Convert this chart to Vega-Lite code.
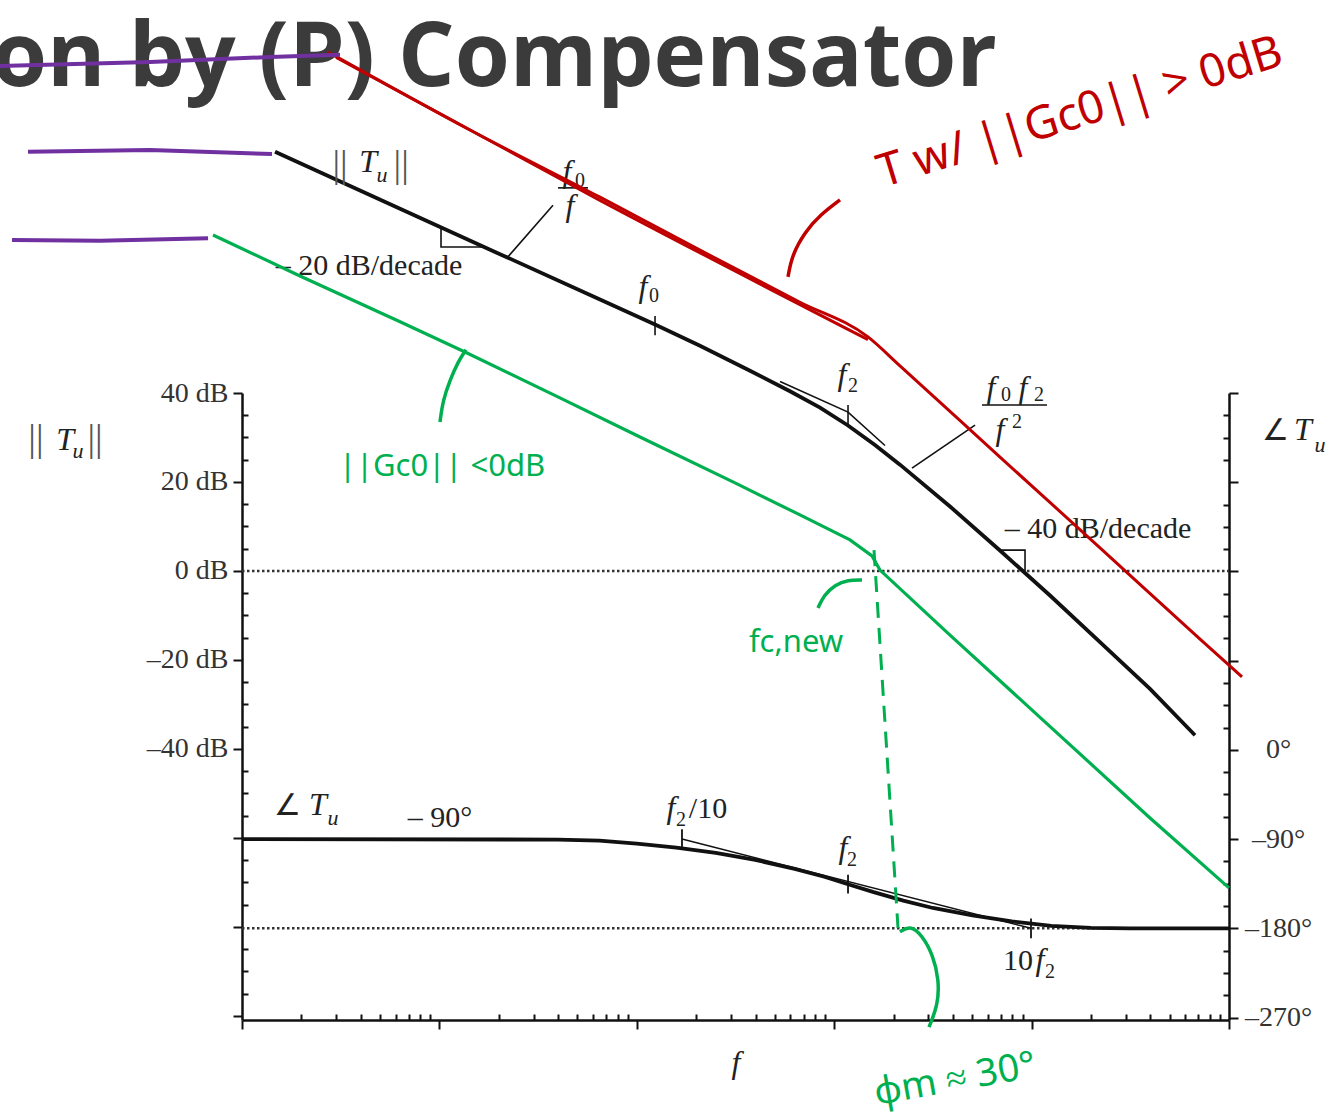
{
  "$schema": "https://vega.github.io/schema/vega-lite/v6.json",
  "width": 987,
  "height": 627,
  "autosize": {"type": "none"},
  "padding": {"left": 242, "top": 393, "right": 104, "bottom": 96},
  "background": "white",
  "config": {"view": {"stroke": null}, "axis": {"grid": false}},
  "datasets": {
    "mag": [
      {"f": 1.47, "dB": 94.2}, {"f": 6.32, "dB": 81.4}, {"f": 20.28, "dB": 71.2}, {"f": 65.1, "dB": 61.0},
      {"f": 123.7, "dB": 55.4}, {"f": 209, "dB": 50.6}, {"f": 374.6, "dB": 45.0}, {"f": 597.2, "dB": 40.4},
      {"f": 847.7, "dB": 36.7}, {"f": 1175, "dB": 32.7}, {"f": 1609, "dB": 28.3}, {"f": 2154, "dB": 23.9},
      {"f": 3861, "dB": 14.5}, {"f": 6917, "dB": 4.6}, {"f": 12397, "dB": -5.5}, {"f": 22210, "dB": -16.0},
      {"f": 39800, "dB": -26.5}, {"f": 67270, "dB": -36.9}
    ],
    "guides": [
      {"seg": "asym", "f": 531.6, "dB": 42.6}, {"seg": "asym", "f": 1175, "dB": 35.7}, {"seg": "asym", "f": 1808, "dB": 28.2},
      {"seg": "f0tick", "f": 123.7, "dB": 57.3}, {"seg": "f0tick", "f": 123.7, "dB": 53.0},
      {"seg": "f2tick", "f": 1175, "dB": 37.3}, {"seg": "f2tick", "f": 1175, "dB": 32.4},
      {"seg": "slope20", "f": 10.19, "dB": 77.1}, {"seg": "slope20", "f": 10.19, "dB": 72.8}, {"seg": "slope20", "f": 16.82, "dB": 72.8},
      {"seg": "lead1", "f": 22.26, "dB": 70.6}, {"seg": "lead1", "f": 37.63, "dB": 82.2},
      {"seg": "bar1", "f": 39.9, "dB": 86.1}, {"seg": "bar1", "f": 56.6, "dB": 86.1},
      {"seg": "lead2", "f": 2478, "dB": 23.1}, {"seg": "lead2", "f": 5169, "dB": 32.8},
      {"seg": "bar2", "f": 5607, "dB": 37.3}, {"seg": "bar2", "f": 11967, "dB": 37.3},
      {"seg": "slope40", "f": 6917, "dB": 4.7}, {"seg": "slope40", "f": 9262, "dB": 4.7}, {"seg": "slope40", "f": 9262, "dB": 0}
    ],
    "zeroDb": [{"f": 1, "dB": 0}, {"f": 100000, "dB": 0}],
    "phase": [
      {"f": 1, "phase": -90}, {"f": 39.8, "phase": -90.5}, {"f": 64.6, "phase": -91.5}, {"f": 100, "phase": -94.5},
      {"f": 158.5, "phase": -98.5}, {"f": 251.2, "phase": -104}, {"f": 398.1, "phase": -111}, {"f": 631, "phase": -120},
      {"f": 891.3, "phase": -128}, {"f": 1175, "phase": -135.5}, {"f": 1585, "phase": -143.5}, {"f": 2239, "phase": -152},
      {"f": 3162, "phase": -159.5}, {"f": 5012, "phase": -167}, {"f": 7943, "phase": -173}, {"f": 12589, "phase": -177.5},
      {"f": 19953, "phase": -179.5}, {"f": 31623, "phase": -180}, {"f": 100000, "phase": -180}
    ],
    "phaseAsym": [{"f": 169.4, "phase": -90}, {"f": 9931, "phase": -180}],
    "phaseTicks": [
      {"seg": "a", "f": 169.4, "phase": -80}, {"seg": "a", "f": 169.4, "phase": -99},
      {"seg": "b", "f": 1175, "phase": -126}, {"seg": "b", "f": 1175, "phase": -145},
      {"seg": "c", "f": 9931, "phase": -170}, {"seg": "c", "f": 9931, "phase": -190}
    ],
    "phaseRef": [{"f": 1, "phase": -180}, {"f": 100000, "phase": -180}],
    "red": [
      {"stroke": "a", "f": 2.73, "dB": 116.6}, {"stroke": "a", "f": 14.29, "dB": 99.1}, {"stroke": "a", "f": 65.1, "dB": 84.0},
      {"stroke": "a", "f": 209, "dB": 72.1}, {"stroke": "a", "f": 670.9, "dB": 60.4}, {"stroke": "a", "f": 1483, "dB": 52.6},
      {"stroke": "a", "f": 2154, "dB": 46.1}, {"stroke": "a", "f": 6917, "dB": 25.6}, {"stroke": "a", "f": 22210, "dB": 5.2},
      {"stroke": "a", "f": 71310, "dB": -15.3}, {"stroke": "a", "f": 116400, "dB": -23.8},
      {"stroke": "b", "f": 3.0, "dB": 115.4}, {"stroke": "b", "f": 65.1, "dB": 83.3}, {"stroke": "b", "f": 1483, "dB": 52.0}
    ],
    "redArc": [
      {"f": 583.4, "dB": 66.1}, {"f": 611.2, "dB": 71.0}, {"f": 711.4, "dB": 76.2}, {"f": 847.7, "dB": 80.0}, {"f": 1070, "dB": 83.4}
    ],
    "green": [
      {"f": 0.713, "dB": 75.5}, {"f": 1.967, "dB": 66.3}, {"f": 6.32, "dB": 56.0}, {"f": 13.48, "dB": 49.2},
      {"f": 40.8, "dB": 38.9}, {"f": 103.8, "dB": 30.1}, {"f": 314.5, "dB": 19.8}, {"f": 670.9, "dB": 12.6},
      {"f": 1202, "dB": 7.0}, {"f": 1554, "dB": 3.4}, {"f": 1706, "dB": 0.2}, {"f": 3861, "dB": -14.4},
      {"f": 11424, "dB": -33.5}, {"f": 39800, "dB": -55.5}, {"f": 100000, "dB": -71.2}
    ],
    "greenArcs": [
      {"seg": "g1", "f": 10.07, "dB": 33.5}, {"seg": "g1", "f": 10.43, "dB": 38.4}, {"seg": "g1", "f": 11.32, "dB": 42.9},
      {"seg": "g1", "f": 12.42, "dB": 47.0}, {"seg": "g1", "f": 13.64, "dB": 49.7},
      {"seg": "g2", "f": 827.8, "dB": -8.3}, {"seg": "g2", "f": 887.9, "dB": -5.4}, {"seg": "g2", "f": 1009, "dB": -3.1},
      {"seg": "g2", "f": 1175, "dB": -2.0}, {"seg": "g2", "f": 1383, "dB": -2.0},
      {"seg": "g3", "f": 2154, "dB": -81.1}, {"seg": "g3", "f": 2421, "dB": -79.6}, {"seg": "g3", "f": 2785, "dB": -81.8},
      {"seg": "g3", "f": 3167, "dB": -86.3}, {"seg": "g3", "f": 3395, "dB": -91.9}, {"seg": "g3", "f": 3356, "dB": -97.5},
      {"seg": "g3", "f": 3022, "dB": -102.5}
    ],
    "greenDash": [{"f": 1591, "dB": 4.7}, {"f": 2105, "dB": -80.2}],
    "purple": [
      {"seg": "p1", "f": 0.0824, "dB": 94.2}, {"seg": "p1", "f": 0.342, "dB": 94.6}, {"seg": "p1", "f": 1.419, "dB": 93.7},
      {"seg": "p2", "f": 0.0684, "dB": 74.4}, {"seg": "p2", "f": 0.191, "dB": 74.2}, {"seg": "p2", "f": 0.673, "dB": 74.8},
      {"seg": "p3", "f": 0.0594, "dB": 113.5}, {"seg": "p3", "f": 0.342, "dB": 114.4}, {"seg": "p3", "f": 1.386, "dB": 115.5},
      {"seg": "p3", "f": 3.136, "dB": 116.0}
    ],
    "heading": [{"label": "on by (P) Compensator", "f": 0.0541, "dB": 109.0}],
    "normBars": [
      {"label": "||", "f": 3.136, "dB": 88.6}, {"label": "||", "f": 6.40, "dB": 88.6},
      {"label": "||", "f": 0.0904, "dB": 27.0}, {"label": "||", "f": 0.1800, "dB": 27.0}
    ],
    "serifText": [
      {"label": "– 20 dB/decade", "f": 4.40, "dB": 66.5},
      {"label": "– 40 dB/decade", "f": 21700, "dB": 7.4},
      {"label": "∠", "f": 1.710, "dB": -54.8},
      {"label": "– 90°", "f": 10.07, "dB": -57.5},
      {"label": "/10", "f": 229.5, "dB": -55.5},
      {"label": "10", "f": 8533, "dB": -89.7},
      {"label": "∠", "f": 173000, "dB": 29.4}
    ],
    "italicText": [
      {"label": "T", "f": 4.35, "dB": 89.7}, {"label": "f", "f": 44.3, "dB": 87.4}, {"label": "f", "f": 45.9, "dB": 79.8},
      {"label": "f", "f": 107.5, "dB": 61.6}, {"label": "f", "f": 1095, "dB": 41.8}, {"label": "f", "f": 6228, "dB": 38.9},
      {"label": "f", "f": 9046, "dB": 38.9}, {"label": "f", "f": 6917, "dB": 29.4}, {"label": "T", "f": 0.1269, "dB": 27.2},
      {"label": "T", "f": 2.427, "dB": -54.8}, {"label": "f", "f": 149.0, "dB": -55.5}, {"label": "f", "f": 1108, "dB": -64.5},
      {"label": "f", "f": 11030, "dB": -89.7}, {"label": "T", "f": 237100, "dB": 29.4}
    ],
    "subText": [
      {"label": "0", "f": 51.55, "dB": 86.3}, {"label": "0", "f": 122.2, "dB": 60.4}, {"label": "2", "f": 1245, "dB": 40.2},
      {"label": "0", "f": 7419, "dB": 38.2}, {"label": "2", "f": 10900, "dB": 38.2}, {"label": "2", "f": 8435, "dB": 32.1},
      {"label": "2", "f": 167.5, "dB": -57.3}, {"label": "2", "f": 1231, "dB": -66.3}, {"label": "2", "f": 12397, "dB": -91.5}
    ],
    "subItalic": [
      {"label": "u", "f": 5.12, "dB": 87.4}, {"label": "u", "f": 0.1476, "dB": 25.4},
      {"label": "u", "f": 2.891, "dB": -57.1}, {"label": "u", "f": 289100, "dB": 26.7}
    ],
    "redNote": [{"label": "T  w/   ||Gc0||  >  0dB", "f": 17590, "dB": 103.0}],
    "greenNotes": [
      {"label": "||Gc0|| <0dB", "f": 10.31, "dB": 23.4},
      {"label": "fc,new", "f": 640.6, "dB": -16.2}
    ],
    "greenMargin": [{"label": "φm ≈ 30°", "f": 4093, "dB": -114.4}]
  },
  "encoding": {
    "x": {
      "field": "f",
      "type": "quantitative",
      "scale": {"type": "log", "domain": [1, 100000], "nice": false},
      "axis": {
        "orient": "bottom",
        "values": [1, 2, 3, 4, 5, 6, 7, 8, 9, 10, 20, 30, 40, 50, 60, 70, 80, 90, 100, 200, 300, 400, 500, 600, 700, 800, 900,
                   1000, 2000, 3000, 4000, 5000, 6000, 7000, 8000, 9000, 10000, 20000, 30000, 40000, 50000, 60000, 70000, 80000, 90000, 100000],
        "labels": false,
        "tickSize": {"condition": {"test": "indexof([1, 10, 100, 1000, 10000, 100000], datum.value) >= 0", "value": 9}, "value": -6},
        "tickWidth": 2,
        "tickColor": "#111",
        "domainColor": "#111",
        "domainWidth": 2.5,
        "title": "f",
        "titleFont": "Liberation Serif",
        "titleFontStyle": "italic",
        "titleFontWeight": "normal",
        "titleFontSize": 32,
        "titleColor": "#222",
        "titlePadding": 17
      }
    }
  },
  "layer": [
    {
      "encoding": {
        "y": {
          "field": "phase",
          "type": "quantitative",
          "scale": {"domain": [-272.5, 360], "nice": false, "zero": false},
          "axis": {
            "orient": "right",
            "values": [-270, -247.5, -225, -202.5, -180, -157.5, -135, -112.5, -90, -67.5, -45, -22.5, 0, 22.5, 45, 67.5, 90,
                       112.5, 135, 157.5, 180, 202.5, 225, 247.5, 270, 292.5, 315, 337.5, 360],
            "labelExpr": "datum.value <= 0 && datum.value % 90 == 0 ? (datum.value < 0 ? '–' + abs(datum.value) : datum.value) + '°' : ''",
            "tickSize": {"condition": {"test": "datum.value % 90 == 0", "value": 9}, "value": -6},
            "tickWidth": 2,
            "tickColor": "#111",
            "domainColor": "#111",
            "domainWidth": 2.5,
            "labelFont": "Liberation Serif",
            "labelFontSize": 28,
            "labelColor": "#333",
            "labelAlign": "center",
            "labelPadding": 40,
            "labelOverlap": false,
            "title": null
          }
        }
      },
      "layer": [
        {"data": {"name": "phaseRef"}, "mark": {"type": "line", "color": "#333", "strokeWidth": 2.5, "strokeDash": [2.5, 2.5]}, "encoding": {}},
        {"data": {"name": "phase"}, "mark": {"type": "line", "color": "#111", "strokeWidth": 3.8}, "encoding": {}},
        {"data": {"name": "phaseAsym"}, "mark": {"type": "line", "color": "#111", "strokeWidth": 1.5}, "encoding": {}},
        {"data": {"name": "phaseTicks"}, "mark": {"type": "line", "color": "#111", "strokeWidth": 1.8},
         "encoding": {"detail": {"field": "seg"}, "order": {"value": null}}}
      ]
    },
    {
      "encoding": {
        "y": {
          "field": "dB",
          "type": "quantitative",
          "scale": {"domain": [-100.9, 40], "nice": false, "zero": false},
          "axis": {
            "orient": "left",
            "values": [-100, -95, -90, -85, -80, -75, -70, -65, -60, -55, -50, -45, -40, -35, -30, -25, -20, -15, -10, -5, 0,
                       5, 10, 15, 20, 25, 30, 35, 40],
            "labelExpr": "datum.value % 20 == 0 && datum.value >= -40 ? (datum.value < 0 ? '–' + abs(datum.value) : datum.value) + ' dB' : ''",
            "tickSize": {"condition": {"test": "datum.value % 20 == 0", "value": 9}, "value": -6},
            "tickWidth": 2,
            "tickColor": "#111",
            "domainColor": "#111",
            "domainWidth": 2.5,
            "labelFont": "Liberation Serif",
            "labelFontSize": 28,
            "labelColor": "#333",
            "labelPadding": 5,
            "labelOverlap": false,
            "title": null
          }
        }
      },
      "layer": [
        {"data": {"name": "heading"}, "mark": {"type": "text", "font": "Open Sans", "fontWeight": "bold", "fontSize": 89, "color": "#3b3b3b", "align": "left", "baseline": "alphabetic"},
         "encoding": {"text": {"field": "label"}}},
        {"data": {"name": "zeroDb"}, "mark": {"type": "line", "color": "#333", "strokeWidth": 2.5, "strokeDash": [2.5, 2.5]}, "encoding": {}},
        {"data": {"name": "mag"}, "mark": {"type": "line", "color": "#111", "strokeWidth": 3.8}, "encoding": {}},
        {"data": {"name": "guides"}, "mark": {"type": "line", "color": "#111", "strokeWidth": 1.6},
         "encoding": {"detail": {"field": "seg"}, "order": {"value": null}}},
        {"data": {"name": "normBars"}, "mark": {"type": "text", "font": "Liberation Serif", "fontSize": 38, "color": "#555", "align": "center", "baseline": "alphabetic"},
         "encoding": {"text": {"field": "label"}}},
        {"data": {"name": "serifText"}, "mark": {"type": "text", "font": "Liberation Serif", "fontSize": 30, "color": "#222", "align": "center", "baseline": "alphabetic"},
         "encoding": {"text": {"field": "label"}}},
        {"data": {"name": "italicText"}, "mark": {"type": "text", "font": "Liberation Serif", "fontStyle": "italic", "fontSize": 32, "color": "#222", "align": "center", "baseline": "alphabetic"},
         "encoding": {"text": {"field": "label"}}},
        {"data": {"name": "subText"}, "mark": {"type": "text", "font": "Liberation Serif", "fontSize": 20, "color": "#222", "align": "center", "baseline": "alphabetic"},
         "encoding": {"text": {"field": "label"}}},
        {"data": {"name": "subItalic"}, "mark": {"type": "text", "font": "Liberation Serif", "fontStyle": "italic", "fontSize": 22, "color": "#222", "align": "center", "baseline": "alphabetic"},
         "encoding": {"text": {"field": "label"}}},
        {"data": {"name": "red"}, "mark": {"type": "line", "color": "#c00000", "strokeWidth": 3, "interpolate": "monotone"},
         "encoding": {"detail": {"field": "stroke"}}},
        {"data": {"name": "redArc"}, "mark": {"type": "line", "color": "#c00000", "strokeWidth": 3.5, "interpolate": "basis"},
         "encoding": {"order": {"value": null}}},
        {"data": {"name": "redNote"}, "mark": {"type": "text", "font": "Noto Sans", "fontSize": 46, "color": "#c00000", "align": "center", "baseline": "middle", "angle": -17},
         "encoding": {"text": {"field": "label"}}},
        {"data": {"name": "green"}, "mark": {"type": "line", "color": "#00b050", "strokeWidth": 3.2},
         "encoding": {}},
        {"data": {"name": "greenArcs"}, "mark": {"type": "line", "color": "#00b050", "strokeWidth": 3.5, "interpolate": "basis"},
         "encoding": {"detail": {"field": "seg"}, "order": {"value": null}}},
        {"data": {"name": "greenDash"}, "mark": {"type": "line", "color": "#00b050", "strokeWidth": 3, "strokeDash": [16, 10]},
         "encoding": {}},
        {"data": {"name": "greenNotes"}, "mark": {"type": "text", "font": "Noto Sans", "fontSize": 31, "color": "#00b050", "align": "center", "baseline": "middle"},
         "encoding": {"text": {"field": "label"}}},
        {"data": {"name": "greenMargin"}, "mark": {"type": "text", "font": "Noto Sans", "fontSize": 38, "color": "#00b050", "align": "center", "baseline": "middle", "angle": -10},
         "encoding": {"text": {"field": "label"}}},
        {"data": {"name": "purple"}, "mark": {"type": "line", "color": "#7030a0", "strokeWidth": 4},
         "encoding": {"detail": {"field": "seg"}, "order": {"value": null}}}
      ]
    }
  ],
  "resolve": {"scale": {"y": "independent"}}
}
